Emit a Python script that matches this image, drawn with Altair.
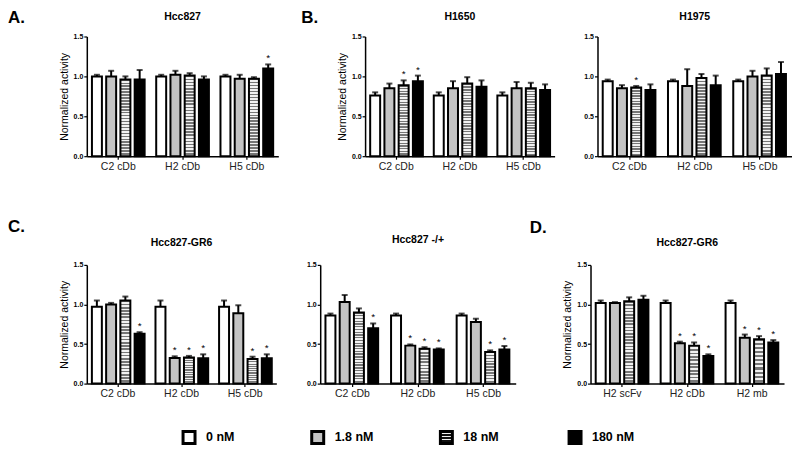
import altair as alt
import pandas as pd

FONT = "Liberation Sans"

concs = ["0 nM", "1.8 nM", "18 nM", "180 nM"]
groups_cdb = ["C2 cDb", "H2 cDb", "H5 cDb"]
groups_fmt = ["H2 scFv", "H2 cDb", "H2 mb"]
y_ticks = [0.0, 0.5, 1.0, 1.5]

# values listed group by group, 4 concentrations each
hcc827_mean = [1.00, 1.00, 0.96, 0.96, 1.00, 1.02, 1.01, 0.96, 1.00, 0.97, 0.97, 1.10]
hcc827_err = [0.02, 0.07, 0.04, 0.12, 0.02, 0.05, 0.03, 0.04, 0.02, 0.05, 0.02, 0.05]
hcc827_sig = [0, 0, 0, 0, 0, 0, 0, 0, 0, 0, 0, 1]

h1650_mean = [0.76, 0.85, 0.89, 0.94, 0.76, 0.85, 0.91, 0.87, 0.76, 0.85, 0.85, 0.83]
h1650_err = [0.04, 0.06, 0.06, 0.07, 0.04, 0.09, 0.08, 0.08, 0.04, 0.08, 0.07, 0.07]
h1650_sig = [0, 0, 1, 1, 0, 0, 0, 0, 0, 0, 0, 0]

h1975_mean = [0.94, 0.85, 0.86, 0.83, 0.94, 0.88, 0.98, 0.89, 0.94, 1.00, 1.01, 1.03]
h1975_err = [0.02, 0.04, 0.02, 0.07, 0.02, 0.21, 0.05, 0.12, 0.02, 0.07, 0.09, 0.15]
h1975_sig = [0, 0, 1, 0, 0, 0, 0, 0, 0, 0, 0, 0]

gr6_mean = [0.97, 1.00, 1.05, 0.63, 0.97, 0.325, 0.33, 0.32, 0.97, 0.89, 0.31, 0.32]
gr6_err = [0.08, 0.02, 0.05, 0.02, 0.08, 0.02, 0.02, 0.05, 0.08, 0.10, 0.03, 0.05]
gr6_sig = [0, 0, 0, 1, 0, 1, 1, 1, 0, 0, 1, 1]

pm_mean = [0.86, 1.03, 0.90, 0.70, 0.86, 0.48, 0.44, 0.43, 0.86, 0.78, 0.40, 0.43]
pm_err = [0.025, 0.09, 0.05, 0.06, 0.025, 0.015, 0.02, 0.015, 0.025, 0.04, 0.02, 0.045]
pm_sig = [0, 0, 0, 1, 0, 1, 1, 1, 0, 0, 1, 1]

fmt_mean = [1.02, 1.02, 1.04, 1.06, 1.02, 0.51, 0.48, 0.35, 1.02, 0.58, 0.56, 0.52]
fmt_err = [0.03, 0.01, 0.05, 0.05, 0.03, 0.02, 0.04, 0.02, 0.03, 0.04, 0.04, 0.03]
fmt_sig = [0, 0, 0, 0, 0, 1, 1, 1, 0, 1, 1, 1]


def stripes(n=26, dark="#767676", light="#f2f2f2"):
    stops = []
    for i in range(n):
        a, m, b = i / n, (i + 0.5) / n, (i + 1) / n
        stops += [{"offset": a, "color": dark}, {"offset": m, "color": dark},
                  {"offset": m, "color": light}, {"offset": b, "color": light}]
    return {"gradient": "linear", "x1": 0, "y1": 0, "x2": 0, "y2": 1, "stops": stops}


fills = {"0 nM": "white", "1.8 nM": "#c4c4c4", "18 nM": stripes(26), "180 nM": "black"}
short_stripes = stripes(11)
leg_fills = {"0 nM": "white", "1.8 nM": "#c4c4c4", "18 nM": stripes(4, "#101010"),
             "180 nM": "black"}


def panel(groups, means, errs, sigs, title, width, ytitle, letter=None,
          letter_x=0, letter_y=0, title_y=-20, height=120):
    rows = []
    for gi, g in enumerate(groups):
        for ci, c in enumerate(concs):
            k = gi * 4 + ci
            rows.append({"group": g, "conc": c, "mean": means[k],
                         "top": means[k] + errs[k], "sig": "*" if sigs[k] else ""})
    df = pd.DataFrame(rows)
    xenc = alt.X("group:N", sort=groups, title=None,
                 scale=alt.Scale(domain=groups, paddingInner=0.18, paddingOuter=0.08),
                 axis=alt.Axis(labelAngle=0, labelFontSize=10.5, labelFont=FONT,
                               tickSize=3, labelPadding=2, domainColor="black",
                               domainWidth=1.5, tickColor="black", tickWidth=1.2,
                               labelColor="#222222", labelFontWeight="normal"))
    xoff = alt.XOffset("conc:N", scale=alt.Scale(domain=concs, paddingInner=0.3, paddingOuter=0))
    yscale = alt.Scale(domain=[0, 1.5], nice=False, zero=True)
    yaxis = alt.Axis(values=y_ticks, format=".1f", labelFontSize=7, labelOverlap=False,
                     labelFontWeight="bold", labelFont=FONT, tickSize=3,
                     labelPadding=1, domainColor="black", domainWidth=1.5,
                     tickColor="black", tickWidth=1.2, labelColor="black",
                     titleFontSize=10.5, titleFontWeight="normal", titleFont=FONT,
                     titleColor="black", titlePadding=4, grid=False)
    ytit = "Normalized activity" if ytitle else None

    def Y(field):
        return alt.Y(field, title=ytit, scale=yscale, axis=yaxis)

    base = alt.Chart(df)
    layers = []
    for c in concs:
        if c == "18 nM":
            layers.append(base.transform_filter((alt.datum.conc == c) & (alt.datum.mean >= 0.6))
                          .mark_bar(fill=fills[c], stroke="black", strokeWidth=2)
                          .encode(x=xenc, xOffset=xoff, y=Y("mean:Q")))
            layers.append(base.transform_filter((alt.datum.conc == c) & (alt.datum.mean < 0.6))
                          .mark_bar(fill=short_stripes, stroke="black", strokeWidth=2)
                          .encode(x=xenc, xOffset=xoff, y=Y("mean:Q")))
        else:
            layers.append(base.transform_filter(alt.datum.conc == c)
                          .mark_bar(fill=fills[c], stroke="black", strokeWidth=2)
                          .encode(x=xenc, xOffset=xoff, y=Y("mean:Q")))
    layers.append(base.mark_rule(color="black", strokeWidth=2)
                  .encode(x=xenc, xOffset=xoff, y=Y("mean:Q"), y2="top:Q"))
    layers.append(base.mark_tick(color="black", thickness=2, size=6)
                  .encode(x=xenc, xOffset=xoff, y=Y("top:Q")))
    layers.append(base.mark_text(fontSize=10, font=FONT, dy=-3, baseline="alphabetic", color="black")
                  .encode(x=xenc, xOffset=xoff, y=Y("top:Q"), text="sig:N"))
    layers.append(alt.Chart(pd.DataFrame({"t": [title]}))
                  .mark_text(align="center", baseline="middle", fontSize=10.5,
                             fontWeight="bold", font=FONT, color="black")
                  .encode(x=alt.value(width / 2), y=alt.value(title_y), text="t:N"))
    if letter:
        layers.append(alt.Chart(pd.DataFrame({"t": [letter]}))
                      .mark_text(align="left", baseline="top", fontSize=17,
                                 fontWeight="bold", font=FONT, color="black")
                      .encode(x=alt.value(letter_x), y=alt.value(letter_y), text="t:N"))
    return alt.layer(*layers).properties(width=width, height=height)


pA = panel(groups_cdb, hcc827_mean, hcc827_err, hcc827_sig, "Hcc827", 192, True, "A.", -79, -27)
pB1 = panel(groups_cdb, h1650_mean, h1650_err, h1650_sig, "H1650", 190, True, "B.", -64, -27)
pB2 = panel(groups_cdb, h1975_mean, h1975_err, h1975_sig, "H1975", 195, False)
pC1 = panel(groups_cdb, gr6_mean, gr6_err, gr6_sig, "Hcc827-GR6", 190, True, "C.", -79, -46,
            title_y=-22, height=119)
pC2 = panel(groups_cdb, pm_mean, pm_err, pm_sig, "Hcc827 -/+", 196, False,
            title_y=-25, height=119)
pD = panel(groups_fmt, fmt_mean, fmt_err, fmt_sig, "Hcc827-GR6", 194, True, "D.", -61, -45,
           title_y=-22, height=119)

row1 = alt.hconcat(pA, alt.hconcat(pB1, pB2, spacing=29), spacing=23)
row2 = alt.hconcat(alt.hconcat(pC1, pC2, spacing=30), pD, spacing=14)

leg_df = pd.DataFrame({"conc": concs})
leg_x = alt.X("conc:N", sort=concs, axis=None,
              scale=alt.Scale(type="point", domain=concs, range=[102.5, 489.5],
                              padding=0))
leg_layers = []
for c in concs:
    leg_layers.append(alt.Chart(leg_df).transform_filter(alt.datum.conc == c)
                      .mark_square(fill=leg_fills[c], stroke="black", strokeWidth=3,
                                   size=144, opacity=1)
                      .encode(x=leg_x, y=alt.value(8)))
leg_layers.append(alt.Chart(leg_df).mark_text(align="left", baseline="middle", dx=17,
                                              fontSize=12.5, fontWeight="bold", font=FONT,
                                              color="black")
                  .encode(x=leg_x, y=alt.value(8), text="conc:N"))
legend = alt.layer(*leg_layers).properties(width=500, height=16)

chart = alt.vconcat(alt.vconcat(row1, row2, spacing=46), legend, spacing=26).properties(
    padding=0, background="white"
).configure_view(stroke=None)

chart.save("out.html", embed_options={"renderer": "svg", "actions": False})
